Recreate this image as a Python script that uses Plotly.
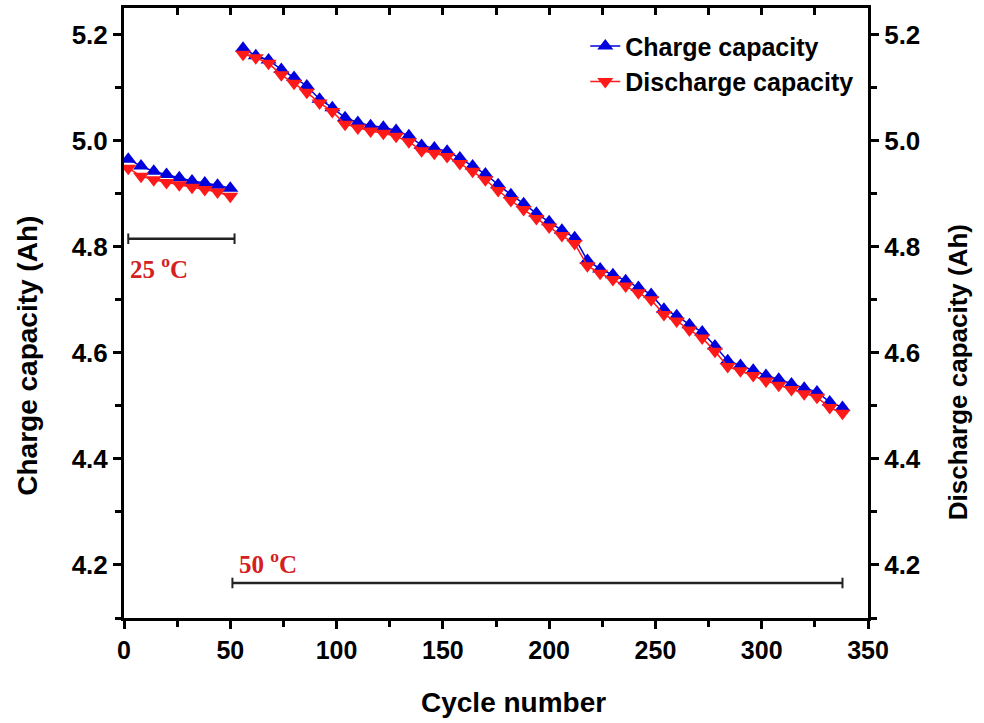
import plotly.graph_objects as go

# ---- data ----
cycles_25 = [2, 8, 14, 20, 26, 32, 38, 44, 50]
charge_25 = [4.965, 4.952, 4.942, 4.936, 4.930, 4.924, 4.920, 4.916, 4.910]
discharge_25 = [4.948, 4.933, 4.926, 4.921, 4.917, 4.912, 4.908, 4.903, 4.895]

cycles_50 = [56, 62, 68, 74, 80, 86, 92, 98, 104, 110, 116, 122, 128, 134, 140, 146,
             152, 158, 164, 170, 176, 182, 188, 194, 200, 206, 212, 218, 224, 230,
             236, 242, 248, 254, 260, 266, 272, 278, 284, 290, 296, 302, 308, 314,
             320, 326, 332, 338]
charge_50 = [5.174, 5.160, 5.152, 5.134, 5.119, 5.103, 5.078, 5.062, 5.043, 5.034,
             5.028, 5.025, 5.019, 5.009, 4.991, 4.986, 4.980, 4.967, 4.952, 4.937,
             4.917, 4.898, 4.881, 4.863, 4.847, 4.831, 4.817, 4.774, 4.758, 4.747,
             4.736, 4.723, 4.710, 4.682, 4.670, 4.653, 4.639, 4.613, 4.585, 4.576,
             4.567, 4.557, 4.550, 4.541, 4.533, 4.526, 4.507, 4.497]
discharge_50 = [5.163, 5.156, 5.146, 5.124, 5.108, 5.091, 5.071, 5.055, 5.031, 5.024,
                5.018, 5.014, 5.008, 4.998, 4.981, 4.976, 4.970, 4.957, 4.942, 4.926,
                4.906, 4.887, 4.870, 4.853, 4.837, 4.821, 4.806, 4.764, 4.750, 4.738,
                4.726, 4.713, 4.700, 4.672, 4.660, 4.643, 4.628, 4.603, 4.574, 4.566,
                4.557, 4.547, 4.539, 4.531, 4.523, 4.516, 4.497, 4.486]

x_ticks = [0, 50, 100, 150, 200, 250, 300, 350]
y_ticks = [4.2, 4.4, 4.6, 4.8, 5.0, 5.2]
y_tick_labels = ["4.2", "4.4", "4.6", "4.8", "5.0", "5.2"]

# temperature brackets: (x start, x end, y level, label, label x, label y)
brackets = [
    (2, 52, 4.815, "25 <sup>o</sup>C", 2, 4.762),
    (51, 338, 4.166, "50 <sup>o</sup>C", 53, 4.205),
]

BLUE = "#0000dd"
RED = "#ff1a1a"
LABEL_RED = "#d42020"

x_charge = cycles_25 + [None] + cycles_50
y_charge = charge_25 + [None] + charge_50
x_dis = cycles_25 + [None] + cycles_50
y_dis = discharge_25 + [None] + discharge_50

fig = go.Figure()
fig.add_trace(go.Scatter(
    x=x_charge, y=y_charge, mode="lines+markers", name="Charge capacity",
    line=dict(color=BLUE, width=1.5), connectgaps=False,
    marker=dict(symbol="triangle-up", size=14, color=BLUE),
))
fig.add_trace(go.Scatter(
    x=x_dis, y=y_dis, mode="lines+markers", name="Discharge capacity",
    line=dict(color=RED, width=1.5), connectgaps=False,
    marker=dict(symbol="triangle-down", size=14, color=RED),
))
fig.add_trace(go.Scatter(x=[None], y=[None], xaxis="x2", yaxis="y2", showlegend=False))

shapes = []
annotations = []
for x0, x1, yy, label, lx, ly in brackets:
    shapes.append(dict(type="line", xref="x", yref="y", x0=x0, x1=x1, y0=yy, y1=yy,
                       line=dict(color="#222", width=2.5)))
    for xe in (x0, x1):
        shapes.append(dict(type="line", xref="x", yref="y", x0=xe, x1=xe,
                           y0=yy - 0.01, y1=yy + 0.01, line=dict(color="#222", width=2)))
    annotations.append(dict(x=lx, y=ly, xref="x", yref="y", text=label, showarrow=False,
                            xanchor="left", yanchor="middle",
                            font=dict(family="Liberation Serif", size=25, color=LABEL_RED,
                                      weight="bold")))

# axis titles as annotations (positioned like the reference)
annotations.append(dict(x=-0.129, y=0.43, xref="paper", yref="paper", text="Charge capacity (Ah)",
                        textangle=-90, showarrow=False, xanchor="center", yanchor="middle",
                        font=dict(family="Arial, Liberation Sans", size=28, color="black",
                                  weight="bold")))
annotations.append(dict(x=1.121, y=0.403, xref="paper", yref="paper",
                        text="Discharge capacity (Ah)",
                        textangle=-90, showarrow=False, xanchor="center", yanchor="middle",
                        font=dict(family="Arial, Liberation Sans", size=26, color="black",
                                  weight="bold")))
annotations.append(dict(x=0.523, y=-0.139, xref="paper", yref="paper", text="Cycle number",
                        showarrow=False, xanchor="center", yanchor="middle",
                        font=dict(family="Arial, Liberation Sans", size=28, color="black",
                                  weight="bold")))

tickfont = dict(family="Arial, Liberation Sans", size=26, color="black", weight="bold")
xtickfont = dict(family="Liberation Sans Narrow, Arial Narrow, Arial, Liberation Sans",
                 size=25, color="black", weight="bold")

fig.update_layout(
    width=984, height=723,
    margin=dict(l=124, r=116, t=8, b=105),
    plot_bgcolor="white", paper_bgcolor="white",
    showlegend=True,
    legend=dict(x=0.62, y=0.975, xanchor="left", yanchor="top", bgcolor="rgba(0,0,0,0)",
                font=dict(family="Arial, Liberation Sans", size=25, color="black", weight="bold"),
                tracegroupgap=0, itemwidth=30),
    shapes=shapes, annotations=annotations,
    xaxis=dict(range=[0, 350], tickvals=x_ticks, ticks="outside", ticklen=8, tickwidth=3,
               tickcolor="black", showline=True, linecolor="black", linewidth=3,
               showgrid=False, zeroline=False, tickfont=xtickfont,
               minor=dict(dtick=25, tick0=0, ticks="outside", ticklen=6, tickwidth=3,
                          tickcolor="black")),
    xaxis2=dict(range=[0, 350], overlaying="x", side="top", tickvals=x_ticks,
                ticks="inside", ticklen=7, tickwidth=3, tickcolor="black",
                showline=True, linecolor="black", linewidth=3, showticklabels=False,
                showgrid=False, zeroline=False,
                minor=dict(dtick=25, tick0=0, ticks="inside", ticklen=7, tickwidth=3,
                           tickcolor="black")),
    yaxis=dict(range=[4.1, 5.25], tickvals=y_ticks, ticktext=y_tick_labels,
               ticks="outside", ticklen=8, tickwidth=3, tickcolor="black",
               showline=True, linecolor="black", linewidth=3, showgrid=False, zeroline=False,
               tickfont=tickfont,
               minor=dict(dtick=0.1, tick0=4.1, ticks="outside", ticklen=6, tickwidth=3,
                          tickcolor="black")),
    yaxis2=dict(range=[4.1, 5.25], overlaying="y", side="right", anchor="x",
                tickvals=y_ticks, ticktext=y_tick_labels,
                ticks="outside", ticklen=8, tickwidth=3, tickcolor="black",
                showline=True, linecolor="black", linewidth=3, showgrid=False, zeroline=False,
                tickfont=tickfont,
                minor=dict(dtick=0.1, tick0=4.1, ticks="outside", ticklen=6, tickwidth=3,
                           tickcolor="black")),
)

fig.write_html("out.html")
